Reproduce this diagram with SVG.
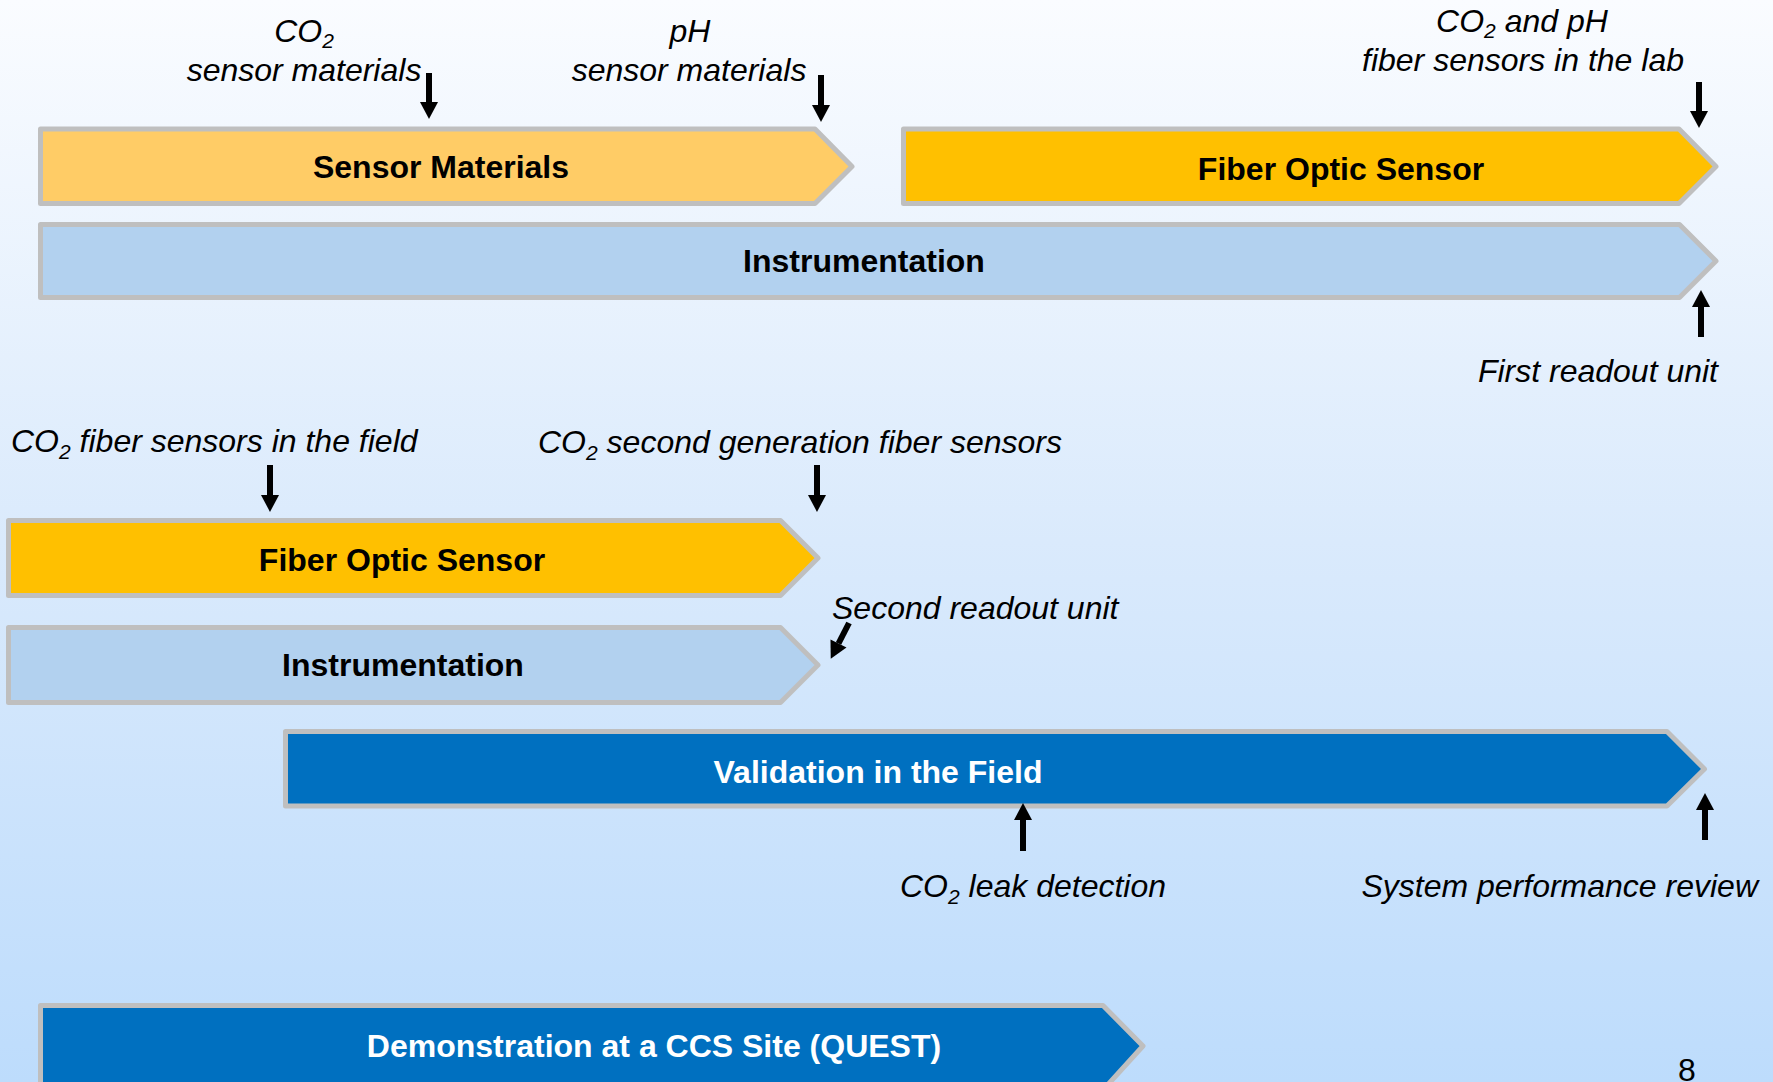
<svg xmlns="http://www.w3.org/2000/svg" width="1773" height="1082" viewBox="0 0 1773 1082">
  <defs>
    <linearGradient id="bg" x1="0" y1="0" x2="0" y2="1">
      <stop offset="0" stop-color="#FAFCFF"/>
      <stop offset="0.5" stop-color="#DAEAFC"/>
      <stop offset="1" stop-color="#BDDCFC"/>
    </linearGradient>
    <marker id="head" markerUnits="userSpaceOnUse" markerWidth="18" markerHeight="18" refX="0" refY="9" orient="auto" overflow="visible">
      <path d="M0,0 L17,9 L0,18 Z" fill="#000"/>
    </marker>
    <style>
      .bar { stroke: #BFBFBF; stroke-width: 5; stroke-linejoin: round; }
      .sm { fill: #FFCC66; }
      .fo { fill: #FFC000; }
      .in { fill: #B2D1EF; }
      .va { fill: #0070C0; }
      .lbl { font-family: "Liberation Sans", Arial, sans-serif; font-size: 32px; font-weight: bold; text-anchor: middle; fill: #000; }
      .lbl.w { fill: #FFF; }
      .note { font-family: "Liberation Sans", Arial, sans-serif; font-size: 32px; font-style: italic; fill: #000; }
      .mid { text-anchor: middle; }
      .end { text-anchor: end; }
      .sub { font-size: 21px; }
      .conn line { stroke: #000; stroke-width: 6; marker-end: url(#head); }
    </style>
  </defs>

  <rect width="1773" height="1082" fill="url(#bg)"/>

  <!-- phase bars -->
  <g id="sensor-materials">
    <path class="bar sm" d="M40.5,129 H815 L852,166.5 L815,203.5 H40.5 Z"/>
    <text class="lbl" x="441" y="178">Sensor Materials</text>
  </g>
  <g id="fiber-optic-lab">
    <path class="bar fo" d="M903.5,129 H1679 L1716,166.5 L1679,203.5 H903.5 Z"/>
    <text class="lbl" x="1341" y="180">Fiber Optic Sensor</text>
  </g>
  <g id="instrumentation-1">
    <path class="bar in" d="M40.5,224.5 H1679.5 L1716,261 L1679.5,297.5 H40.5 Z"/>
    <text class="lbl" x="864" y="272">Instrumentation</text>
  </g>
  <g id="fiber-optic-field">
    <path class="bar fo" d="M8.5,520.5 H780.5 L818,558 L780.5,595.5 H8.5 Z"/>
    <text class="lbl" x="402" y="571">Fiber Optic Sensor</text>
  </g>
  <g id="instrumentation-2">
    <path class="bar in" d="M8.5,627.5 H780.5 L818,665 L780.5,702.5 H8.5 Z"/>
    <text class="lbl" x="403" y="676">Instrumentation</text>
  </g>
  <g id="validation">
    <path class="bar va" d="M285.5,731.5 H1667 L1704.5,769 L1667,806 H285.5 Z"/>
    <text class="lbl w" x="878" y="783">Validation in the Field</text>
  </g>
  <g id="demonstration">
    <path class="bar va" d="M40.5,1005.5 H1103 L1143,1046 L1103,1090 H40.5 Z"/>
    <text class="lbl w" x="654" y="1057">Demonstration at a CCS Site (QUEST)</text>
  </g>

  <!-- milestone arrows -->
  <g class="conn">
    <line x1="429" y1="73" x2="429" y2="102"/>
    <line x1="821" y1="75" x2="821" y2="105"/>
    <line x1="1699" y1="82" x2="1699" y2="111"/>
    <line x1="1701" y1="337" x2="1701" y2="307"/>
    <line x1="270" y1="465" x2="270" y2="495"/>
    <line x1="817" y1="465" x2="817" y2="495"/>
    <line x1="849" y1="623" x2="838.5" y2="643.5"/>
    <line x1="1023" y1="851" x2="1023" y2="820"/>
    <line x1="1705" y1="840" x2="1705" y2="810"/>
  </g>

  <!-- milestone labels -->
  <g id="labels">
    <text class="note mid" x="304" y="42">CO<tspan class="sub" dy="6">2</tspan></text>
    <text class="note mid" x="304" y="81">sensor materials</text>
    <text class="note mid" x="690" y="42">pH</text>
    <text class="note mid" x="689" y="81">sensor materials</text>
    <text class="note mid" x="1522" y="32">CO<tspan class="sub" dy="6">2</tspan><tspan dy="-6"> and pH</tspan></text>
    <text class="note mid" x="1523" y="71">fiber sensors in the lab</text>
    <text class="note end" x="1718" y="382">First readout unit</text>
    <text class="note" x="11" y="452">CO<tspan class="sub" dy="7">2</tspan><tspan dy="-7"> fiber sensors in the field</tspan></text>
    <text class="note" x="538" y="453">CO<tspan class="sub" dy="7">2</tspan><tspan dy="-7"> second generation fiber sensors</tspan></text>
    <text class="note" x="832" y="619">Second readout unit</text>
    <text class="note" x="900" y="897">CO<tspan class="sub" dy="7">2</tspan><tspan dy="-7"> leak detection</tspan></text>
    <text class="note end" x="1758" y="897">System performance review</text>
  </g>

  <text x="1687" y="1081" font-family="Liberation Sans, Arial, sans-serif" font-size="32" text-anchor="middle" fill="#000">8</text>
</svg>
